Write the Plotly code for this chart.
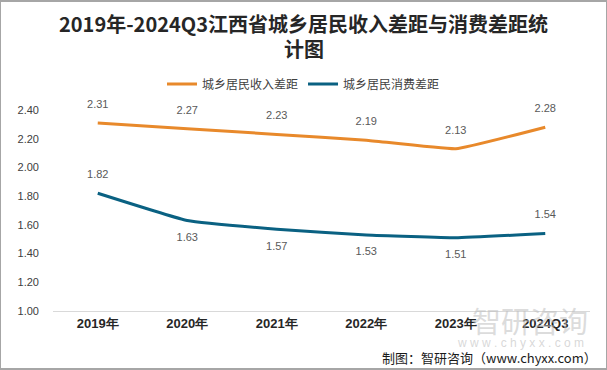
import plotly.graph_objects as go

categories = ["2019年", "2020年", "2021年", "2022年", "2023年", "2024Q3"]
income_gap = [2.31, 2.27, 2.23, 2.19, 2.13, 2.28]
consume_gap = [1.82, 1.63, 1.57, 1.53, 1.51, 1.54]
consume_pos = ["top center", "bottom center", "bottom center", "bottom center", "bottom center", "top center"]
y_ticks = [1.0, 1.2, 1.4, 1.6, 1.8, 2.0, 2.2, 2.4]

W, H = 607, 370
T, B = 110, 59
PH = H - T - B


def py(p):
    return (H - B - p) / PH


fig = go.Figure()
fig.add_trace(go.Scatter(
    x=categories, y=income_gap, name="城乡居民收入差距", mode="lines+markers+text",
    line=dict(color="#E8892B", width=3, shape="spline", smoothing=0.3),
    marker=dict(size=18, color="rgba(0,0,0,0)"), cliponaxis=False,
    text=[f"{v:.2f}" for v in income_gap], textposition="top center",
    textfont=dict(size=11, color="#595959", family="Liberation Sans, Arial"),
))
fig.add_trace(go.Scatter(
    x=categories, y=consume_gap, name="城乡居民消费差距", mode="lines+markers+text",
    line=dict(color="#0A6182", width=3, shape="spline", smoothing=0.3),
    marker=dict(size=18, color="rgba(0,0,0,0)"), cliponaxis=False,
    text=[f"{v:.2f}" for v in consume_gap], textposition=consume_pos,
    textfont=dict(size=11, color="#595959", family="Liberation Sans, Arial"),
))

fig.update_layout(
    width=W, height=H,
    margin=dict(l=0, r=0, t=T, b=B),
    paper_bgcolor="white", plot_bgcolor="white",
    font=dict(family="Noto Sans CJK SC", color="#404040"),
    legend=dict(orientation="h", x=0.5, xanchor="center", y=py(84), yanchor="middle",
                font=dict(size=12, color="#404040"), itemwidth=30),
    showlegend=True,
    xaxis=dict(domain=[53 / W, 590 / W], type="category", showgrid=False,
               showline=True, linecolor="#D9D9D9", linewidth=1, ticks="",
               tickvals=categories, ticktext=[f"<b>{c}</b>" for c in categories],
               tickfont=dict(size=13, color="#262626", family="Liberation Sans, Arial"),
               range=[-0.5, 5.5]),
    yaxis=dict(range=[1.0, 2.4], tickvals=y_ticks, tickformat=".2f", showgrid=False,
               zeroline=False, showline=False, ticks="",
               ticklabelstandoff=13,
               tickfont=dict(size=11, color="#404040", family="Liberation Sans, Arial")),
)

# title
fig.add_annotation(text="<b>2019年-2024Q3江西省城乡居民收入差距与消费差距统</b>", xref="paper", yref="paper",
                   x=0.5, y=py(23), xanchor="center", yanchor="middle", showarrow=False,
                   font=dict(size=20, color="#262626", family="Noto Sans CJK SC"))
fig.add_annotation(text="<b>计图</b>", xref="paper", yref="paper",
                   x=0.5, y=py(48), xanchor="center", yanchor="middle", showarrow=False,
                   font=dict(size=20, color="#262626", family="Noto Sans CJK SC"))

# watermark
fig.add_annotation(text="智研咨询", xref="paper", yref="paper", x=590 / W, y=py(320),
                   xanchor="right", yanchor="middle", showarrow=False,
                   font=dict(size=29, color="rgba(190,190,190,0.55)", family="Noto Sans CJK SC"))
fig.add_annotation(text="w w w . c h y x x . c o m", xref="paper", yref="paper", x=586 / W, y=py(343),
                   xanchor="right", yanchor="middle", showarrow=False,
                   font=dict(size=12, color="rgba(190,190,190,0.6)", family="Liberation Sans, Arial"))
fig.add_annotation(text="制图：智研咨询（www.chyxx.com）", xref="paper", yref="paper", x=599 / W, y=py(357),
                   xanchor="right", yanchor="middle", showarrow=False,
                   font=dict(size=13, color="#1a1a1a", family="Noto Sans CJK SC"))
# border
fig.add_shape(type="rect", xref="paper", yref="paper", x0=0, y0=py(H - 1), x1=1, y1=py(1),
              line=dict(color="#A6A6A6", width=2))

fig.write_html("out.html", config={"displayModeBar": False},
               post_script="document.body.style.margin='0';document.body.style.overflow='hidden';")
